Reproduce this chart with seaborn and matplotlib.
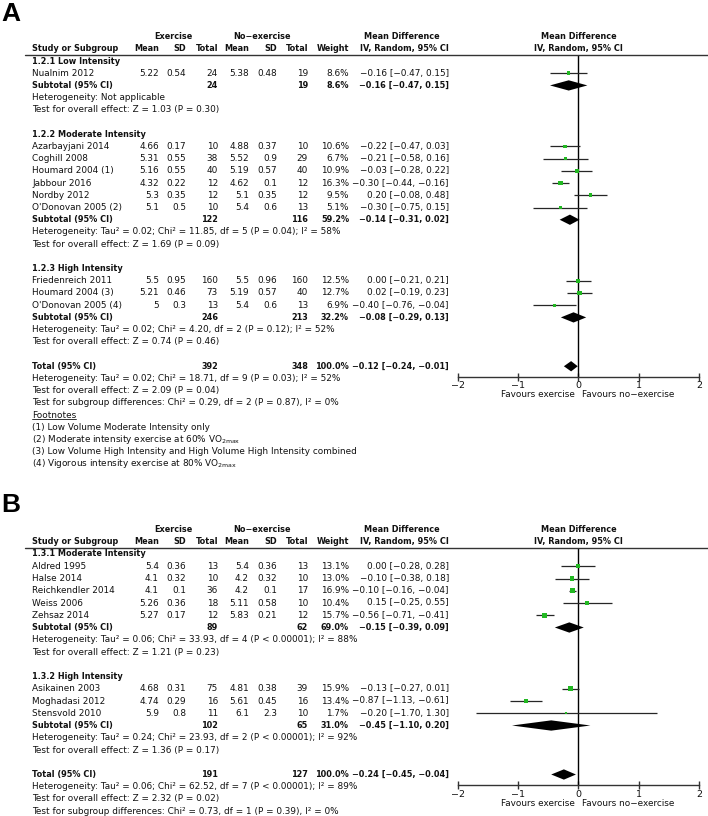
import numpy as np
import pandas as pd
import matplotlib
matplotlib.use("Agg")
import matplotlib.pyplot as plt
import seaborn as sns
from matplotlib.lines import Line2D
from matplotlib.transforms import blended_transform_factory

# ---------------- DATA: panel A ----------------
groups_A = ["1.2.1 Low Intensity", "1.2.2 Moderate Intensity", "1.2.3 High Intensity"]
studies_A = ["Nualnim 2012", "Azarbayjani 2014", "Coghill 2008", "Houmard 2004 (1)",
             "Jabbour 2016", "Nordby 2012", "O'Donovan 2005 (2)",
             "Friedenreich 2011", "Houmard 2004 (3)", "O'Donovan 2005 (4)"]
group_of_A = [0, 1, 1, 1, 1, 1, 1, 2, 2, 2]
ex_mean_A = [5.22, 4.66, 5.31, 5.16, 4.32, 5.3, 5.1, 5.5, 5.21, 5]
ex_sd_A = [0.54, 0.17, 0.55, 0.55, 0.22, 0.35, 0.5, 0.95, 0.46, 0.3]
ex_n_A = [24, 10, 38, 40, 12, 12, 10, 160, 73, 13]
ct_mean_A = [5.38, 4.88, 5.52, 5.19, 4.62, 5.1, 5.4, 5.5, 5.19, 5.4]
ct_sd_A = [0.48, 0.37, 0.9, 0.57, 0.1, 0.35, 0.6, 0.96, 0.57, 0.6]
ct_n_A = [19, 10, 29, 40, 12, 12, 13, 160, 40, 13]
weight_A = [8.6, 10.6, 6.7, 10.9, 16.3, 9.5, 5.1, 12.5, 12.7, 6.9]
md_A = [-0.16, -0.22, -0.21, -0.03, -0.30, 0.20, -0.30, 0.00, 0.02, -0.40]
lo_A = [-0.47, -0.47, -0.58, -0.28, -0.44, -0.08, -0.75, -0.21, -0.19, -0.76]
hi_A = [0.15, 0.03, 0.16, 0.22, -0.16, 0.48, 0.15, 0.21, 0.23, -0.04]

sub_ex_n_A = [24, 122, 246]
sub_ct_n_A = [19, 116, 213]
sub_w_A = [8.6, 59.2, 32.2]
sub_md_A = [-0.16, -0.14, -0.08]
sub_lo_A = [-0.47, -0.31, -0.29]
sub_hi_A = [0.15, 0.02, 0.13]
sub_het_A = ["Heterogeneity: Not applicable",
             "Heterogeneity: Tau\u00b2 = 0.02; Chi\u00b2 = 11.85, df = 5 (P = 0.04); I\u00b2 = 58%",
             "Heterogeneity: Tau\u00b2 = 0.02; Chi\u00b2 = 4.20, df = 2 (P = 0.12); I\u00b2 = 52%"]
sub_z_A = ["Test for overall effect: Z = 1.03 (P = 0.30)",
           "Test for overall effect: Z = 1.69 (P = 0.09)",
           "Test for overall effect: Z = 0.74 (P = 0.46)"]
tot_A = dict(ex_n=392, ct_n=348, w=100.0, md=-0.12, lo=-0.24, hi=-0.01)
tot_text_A = ["Heterogeneity: Tau\u00b2 = 0.02; Chi\u00b2 = 18.71, df = 9 (P = 0.03); I\u00b2 = 52%",
              "Test for overall effect: Z = 2.09 (P = 0.04)",
              "Test for subgroup differences: Chi\u00b2 = 0.29, df = 2 (P = 0.87), I\u00b2 = 0%"]
footnotes_A = ["(1) Low Volume Moderate Intensity only",
               "(2) Moderate intensity exercise at 60% VO$_{\\mathregular{2max}}$",
               "(3) Low Volume High Intensity and High Volume High Intensity combined",
               "(4) Vigorous intensity exercise at 80% VO$_{\\mathregular{2max}}$"]

# ---------------- DATA: panel B ----------------
groups_B = ["1.3.1 Moderate Intensity", "1.3.2 High Intensity"]
studies_B = ["Aldred 1995", "Halse 2014", "Reichkendler 2014", "Weiss 2006", "Zehsaz 2014",
             "Asikainen 2003", "Moghadasi 2012", "Stensvold 2010"]
group_of_B = [0, 0, 0, 0, 0, 1, 1, 1]
ex_mean_B = [5.4, 4.1, 4.1, 5.26, 5.27, 4.68, 4.74, 5.9]
ex_sd_B = [0.36, 0.32, 0.1, 0.36, 0.17, 0.31, 0.29, 0.8]
ex_n_B = [13, 10, 36, 18, 12, 75, 16, 11]
ct_mean_B = [5.4, 4.2, 4.2, 5.11, 5.83, 4.81, 5.61, 6.1]
ct_sd_B = [0.36, 0.32, 0.1, 0.58, 0.21, 0.38, 0.45, 2.3]
ct_n_B = [13, 10, 17, 10, 12, 39, 16, 10]
weight_B = [13.1, 13.0, 16.9, 10.4, 15.7, 15.9, 13.4, 1.7]
md_B = [0.00, -0.10, -0.10, 0.15, -0.56, -0.13, -0.87, -0.20]
lo_B = [-0.28, -0.38, -0.16, -0.25, -0.71, -0.27, -1.13, -1.70]
hi_B = [0.28, 0.18, -0.04, 0.55, -0.41, 0.01, -0.61, 1.30]

sub_ex_n_B = [89, 102]
sub_ct_n_B = [62, 65]
sub_w_B = [69.0, 31.0]
sub_md_B = [-0.15, -0.45]
sub_lo_B = [-0.39, -1.10]
sub_hi_B = [0.09, 0.20]
sub_het_B = ["Heterogeneity: Tau\u00b2 = 0.06; Chi\u00b2 = 33.93, df = 4 (P < 0.00001); I\u00b2 = 88%",
             "Heterogeneity: Tau\u00b2 = 0.24; Chi\u00b2 = 23.93, df = 2 (P < 0.00001); I\u00b2 = 92%"]
sub_z_B = ["Test for overall effect: Z = 1.21 (P = 0.23)",
           "Test for overall effect: Z = 1.36 (P = 0.17)"]
tot_B = dict(ex_n=191, ct_n=127, w=100.0, md=-0.24, lo=-0.45, hi=-0.04)
tot_text_B = ["Heterogeneity: Tau\u00b2 = 0.06; Chi\u00b2 = 62.52, df = 7 (P < 0.00001); I\u00b2 = 89%",
              "Test for overall effect: Z = 2.32 (P = 0.02)",
              "Test for subgroup differences: Chi\u00b2 = 0.73, df = 1 (P = 0.39), I\u00b2 = 0%"]

xticks = [-2, -1, 0, 1, 2]

# ---------------- styling / layout ----------------
W, H = 708, 816
sns.set_theme(style="white")
plt.rcParams['font.family'] = ['DejaVu Sans']
plt.rcParams['mathtext.fontset'] = 'dejavusans'
FS = 6.4
FSB = 5.9
GREEN = "#22b822"
TXT = "#111111"

# column right-edges in pixels
COL = dict(name=32, m1=159, s1=186, n1=218, m2=249, s2=277, n2=308, w=349, md=449)
PLOT_L, PLOT_R = 457.7, 699.0

fig = plt.figure(figsize=(W / 100, H / 100), dpi=100)


def fmt(v):
    return f"{v:g}"


def ci_txt(m, l, h):
    return f"{m:.2f} [{l:.2f}, {h:.2f}]".replace('-', '\u2212')


def draw_panel(letter, letter_px, row0, step, line_px, axis_px, groups, studies, group_of,
               ex_mean, ex_sd, ex_n, ct_mean, ct_sd, ct_n, weight, md, lo, hi,
               sub_ex_n, sub_ct_n, sub_w, sub_md, sub_lo, sub_hi, sub_het, sub_z,
               tot, tot_text, footnotes=None):
    top_r = (line_px - row0) / step
    bot_r = (axis_px - row0) / step
    ax = fig.add_axes([PLOT_L / W, 1 - axis_px / H, (PLOT_R - PLOT_L) / W, (axis_px - line_px) / H])
    ax.set_xlim(xticks[0], xticks[-1])
    ax.set_ylim(bot_r, top_r)
    T = blended_transform_factory(fig.transFigure, ax.transData)

    def put(px, r, s, ha='right', bold=False, **kw):
        fig.text(px / W, r, s, transform=T, ha=ha, va='center',
                 fontsize=FSB if bold else FS,
                 fontweight='bold' if bold else 'normal', color=TXT, **kw)

    # panel letter
    fig.text(1 / W, 1 - letter_px / H, letter, ha='left', va='top', fontsize=19,
             fontweight='bold', family='Liberation Sans', color='black')

    # headers
    put(173, -2, "Exercise", ha='center', bold=True)
    put(262, -2, "No\u2212exercise", ha='center', bold=True)
    put(402, -2, "Mean Difference", ha='center', bold=True)
    put(404, -1, "IV, Random, 95% CI", ha='center', bold=True)
    put(COL['name'], -1, "Study or Subgroup", ha='left', bold=True)
    for key, lab in [('m1', 'Mean'), ('s1', 'SD'), ('n1', 'Total'), ('m2', 'Mean'),
                     ('s2', 'SD'), ('n2', 'Total'), ('w', 'Weight')]:
        put(COL[key], -1, lab, bold=True)
    ax.text(0, -2, "Mean Difference", ha='center', va='center', fontsize=FSB,
            fontweight='bold', color=TXT, clip_on=False)
    ax.text(0, -1, "IV, Random, 95% CI", ha='center', va='center', fontsize=FSB,
            fontweight='bold', color=TXT, clip_on=False)
    fig.add_artist(Line2D([25 / W, 1.0], [1 - line_px / H] * 2, color='#333333', lw=1.0))

    # build rows
    r = 0
    srows, diam = [], []
    for g, gname in enumerate(groups):
        put(COL['name'], r, gname, ha='left', bold=True)
        r += 1
        for i in [k for k in range(len(studies)) if group_of[k] == g]:
            put(COL['name'], r, studies[i], ha='left')
            put(COL['m1'], r, fmt(ex_mean[i]))
            put(COL['s1'], r, fmt(ex_sd[i]))
            put(COL['n1'], r, str(ex_n[i]))
            put(COL['m2'], r, fmt(ct_mean[i]))
            put(COL['s2'], r, fmt(ct_sd[i]))
            put(COL['n2'], r, str(ct_n[i]))
            put(COL['w'], r, f"{weight[i]:.1f}%")
            put(COL['md'], r, ci_txt(md[i], lo[i], hi[i]))
            srows.append(dict(row=r, md=md[i], lo=lo[i], hi=hi[i], weight=weight[i]))
            r += 1
        put(COL['name'], r, "Subtotal (95% CI)", ha='left', bold=True)
        put(COL['n1'], r, str(sub_ex_n[g]), bold=True)
        put(COL['n2'], r, str(sub_ct_n[g]), bold=True)
        put(COL['w'], r, f"{sub_w[g]:.1f}%", bold=True)
        put(COL['md'], r, ci_txt(sub_md[g], sub_lo[g], sub_hi[g]), bold=True)
        diam.append((r, sub_md[g], sub_lo[g], sub_hi[g]))
        r += 1
        put(COL['name'], r, sub_het[g], ha='left')
        r += 1
        put(COL['name'], r, sub_z[g], ha='left')
        r += 2
    put(COL['name'], r, "Total (95% CI)", ha='left', bold=True)
    put(COL['n1'], r, str(tot['ex_n']), bold=True)
    put(COL['n2'], r, str(tot['ct_n']), bold=True)
    put(COL['w'], r, f"{tot['w']:.1f}%", bold=True)
    put(COL['md'], r, ci_txt(tot['md'], tot['lo'], tot['hi']), bold=True)
    diam.append((r, tot['md'], tot['lo'], tot['hi']))
    r += 1
    for t in tot_text:
        put(COL['name'], r, t, ha='left')
        r += 1
    if footnotes:
        fn = fig.text(COL['name'] / W, r, "Footnotes", transform=T, ha='left', va='center',
                      fontsize=FS, color=TXT)
        fig.canvas.draw()
        bb = fn.get_window_extent()
        yy = (bb.y0 + 0.3) / H
        fig.add_artist(Line2D([bb.x0 / W, bb.x1 / W], [yy, yy], color=TXT, lw=0.6))
        r += 1
        for t in footnotes:
            put(COL['name'], r, t, ha='left')
            r += 1

    # forest plot marks
    df = pd.DataFrame(srows)
    ax.hlines(df['row'], df['lo'], df['hi'], color='#262626', lw=0.9, zorder=2)
    sns.scatterplot(data=df, x='md', y='row', size='weight', sizes=(1.0, 12), size_norm=(0, 17),
                    marker='s', color=GREEN, linewidth=0, legend=False, ax=ax, zorder=3)
    for (rr, m, l, h) in diam:
        ax.fill([l, m, h, m], [rr, rr - 0.42, rr, rr + 0.42], color='black', lw=0, zorder=4)
    ax.axvline(0, color='black', lw=1.0, zorder=1)

    for s in ['left', 'right', 'top']:
        ax.spines[s].set_visible(False)
    ax.spines['bottom'].set_color('#333333')
    ax.spines['bottom'].set_linewidth(1.0)
    ax.set_yticks([])
    ax.set_xticks(xticks)
    ax.set_xlabel('')
    ax.set_ylabel('')
    ax.tick_params(axis='x', direction='inout', length=6, width=1.0, color='#333333',
                   labelsize=FS + 0.4, pad=0.5, labelcolor=TXT, bottom=True)
    ax.set_facecolor('none')
    ax.grid(False)
    fav_r = (axis_px + 18 - row0) / step
    ax.text(-0.05, fav_r, "Favours exercise", ha='right', va='center', fontsize=FS,
            color=TXT, clip_on=False)
    ax.text(0.06, fav_r, "Favours no\u2212exercise", ha='left', va='center', fontsize=FS,
            color=TXT, clip_on=False)
    return ax


draw_panel("A", 2, 61, 12.21, 55, 376.5, groups_A, studies_A, group_of_A,
           ex_mean_A, ex_sd_A, ex_n_A, ct_mean_A, ct_sd_A, ct_n_A, weight_A, md_A, lo_A, hi_A,
           sub_ex_n_A, sub_ct_n_A, sub_w_A, sub_md_A, sub_lo_A, sub_hi_A, sub_het_A, sub_z_A,
           tot_A, tot_text_A, footnotes_A)
draw_panel("B", 493, 554, 12.25, 548, 785, groups_B, studies_B, group_of_B,
           ex_mean_B, ex_sd_B, ex_n_B, ct_mean_B, ct_sd_B, ct_n_B, weight_B, md_B, lo_B, hi_B,
           sub_ex_n_B, sub_ct_n_B, sub_w_B, sub_md_B, sub_lo_B, sub_hi_B, sub_het_B, sub_z_B,
           tot_B, tot_text_B)

fig.savefig("out.png", dpi=100, facecolor='white')
